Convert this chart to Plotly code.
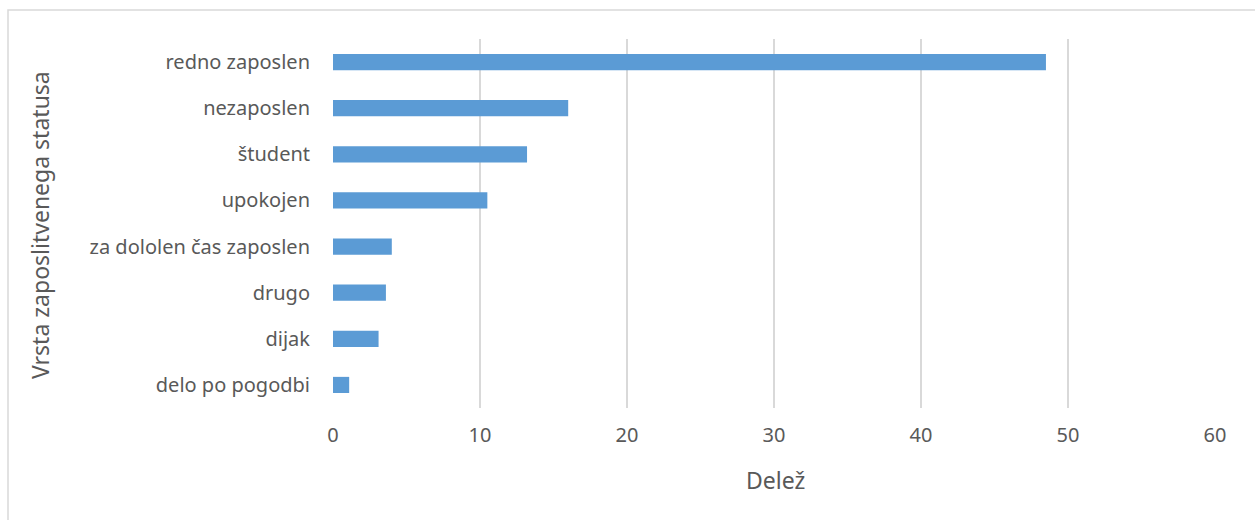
import plotly.graph_objects as go

categories = ["redno zaposlen", "nezaposlen", "študent", "upokojen",
              "za dololen čas zaposlen", "drugo", "dijak", "delo po pogodbi"]
values = [48.5, 16.0, 13.2, 10.5, 4.0, 3.6, 3.1, 1.1]
x_ticks = [0, 10, 20, 30, 40, 50, 60]

FONT = "Noto Sans"
TXT = "#595959"

fig = go.Figure()
fig.add_trace(go.Bar(
    y=categories, x=values, orientation="h",
    marker=dict(color="#5B9BD5", line=dict(width=0)),
    width=0.35,
))

W, H = 1255, 520
L, R, T, B = 333, 40, 39, 112
pw, ph = W - L - R, H - T - B

fig.update_layout(
    width=W, height=H,
    margin=dict(l=L, r=R, t=T, b=B),
    paper_bgcolor="white", plot_bgcolor="white",
    showlegend=False,
    font=dict(family=FONT, color=TXT, size=20),
    xaxis=dict(
        range=[0, 60], tickvals=x_ticks, showgrid=True, gridcolor="#d9d9d9",
        gridwidth=1.5, zeroline=False, showline=False, ticks="",
        tickfont=dict(size=20, color=TXT), ticklabelstandoff=13,
    ),
    yaxis=dict(
        categoryorder="array", categoryarray=categories[::-1],
        autorange=False, range=[-0.5, 7.5],
        showgrid=False, zeroline=False, showline=False, ticks="",
        tickfont=dict(size=20, color=TXT), ticklabelstandoff=22,
    ),
    bargap=0.65,
)

# axis titles
fig.add_annotation(text="Delež", xref="paper", yref="paper",
                   x=(775 - L) / pw, y=-(480 - T - ph) / ph,
                   showarrow=False, xanchor="center", yanchor="middle",
                   font=dict(size=23, color=TXT))
fig.add_annotation(text="Vrsta zaposlitvenega statusa", xref="paper", yref="paper",
                   x=(40 - L) / pw, y=1 - (225 - T) / ph, textangle=-90,
                   showarrow=False, xanchor="center", yanchor="middle",
                   font=dict(size=23, color=TXT))

# chart border
fig.add_shape(type="rect", xref="paper", yref="paper",
              x0=(8 - L) / pw, x1=(W + 5 - L) / pw,
              y0=-(H + 5 - T - ph) / ph, y1=1 + (T - 10) / ph,
              line=dict(color="#d9d9d9", width=1.5), fillcolor="rgba(0,0,0,0)", layer="below")

fig.write_html("out.html")
